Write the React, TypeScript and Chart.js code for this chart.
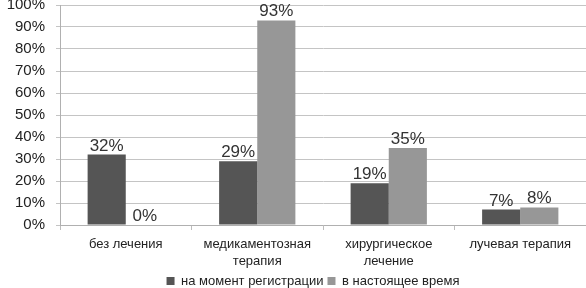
import React, { useEffect, useRef } from "react";
import { Chart, registerables } from "chart.js";

Chart.register(...registerables);

const categories: string[][] = [
  ["без лечения"],
  ["медикаментозная", "терапия"],
  ["хирургическое", "лечение"],
  ["лучевая терапия"],
];
const seriesNames = ["на момент регистрации", "в настоящее время"];
const atRegistration = [32, 29, 19, 7];
const currently = [0, 93, 35, 8];
const yTicks = [0, 10, 20, 30, 40, 50, 60, 70, 80, 90, 100];

const FONT = "Arial, 'Liberation Sans', sans-serif";

const valueLabels = {
  id: "valueLabels",
  afterDatasetsDraw(chart: any) {
    const ctx = chart.ctx;
    ctx.save();
    ctx.font = "17px " + FONT;
    ctx.fillStyle = "#333333";
    ctx.textAlign = "center";
    ctx.textBaseline = "alphabetic";
    chart.data.datasets.forEach((ds: any, di: number) => {
      const meta = chart.getDatasetMeta(di);
      meta.data.forEach((bar: any, i: number) => {
        ctx.fillText(ds.data[i] + "%", bar.x, bar.y - 4);
      });
    });
    ctx.restore();
  },
};

const legendShift = {
  id: "legendShift",
  afterLayout(chart: any) {
    const lg = chart.legend;
    if (lg) {
      lg.left = 40;
      lg.right = 586;
      const h = lg.bottom - lg.top;
      lg.top = 270.5;
      lg.bottom = lg.top + h;
    }
    const x = chart.scales.x;
    if (x) {
      x.bottom = 288;
      x.height = x.bottom - x.top;
    }
  },
};

export default function App() {
  const ref = useRef<HTMLCanvasElement>(null);
  useEffect(() => {
    if (!ref.current) return;
    const chart = new Chart(ref.current, {
      type: "bar",
      data: {
        labels: categories,
        datasets: [
          {
            label: seriesNames[0],
            data: atRegistration,
            backgroundColor: "#555555",
            borderWidth: 0,
            categoryPercentage: 0.58,
            barPercentage: 1,
          },
          {
            label: seriesNames[1],
            data: currently,
            backgroundColor: "#979797",
            borderWidth: 0,
            categoryPercentage: 0.58,
            barPercentage: 1,
          },
        ],
      },
      options: {
        animation: false,
        responsive: false,
        layout: { padding: { top: 5, right: 0, left: 0, bottom: 0 } },
        plugins: {
          tooltip: { enabled: false },
          legend: {
            position: "bottom",
            labels: {
              boxWidth: 8,
              boxHeight: 8,
              padding: 4,
              color: "#222222",
              font: { size: 13, family: FONT },
            },
          },
        },
        scales: {
          x: {
            grid: {
              display: true,
              drawOnChartArea: false,
              offset: true,
              tickLength: 5,
              color: "#bdbdbd",
            },
            border: { color: "#b0b0b0" },
            ticks: {
              padding: 6,
              color: "#222222",
              font: { size: 13, family: FONT, lineHeight: 1.3 },
              maxRotation: 0,
              autoSkip: false,
            },
            afterFit(scale: any) {
              scale.height = 36;
            },
          },
          y: {
            min: 0,
            max: 100,
            afterBuildTicks(scale: any) {
              scale.ticks = yTicks.map((v) => ({ value: v }));
            },
            grid: { color: "#c4c4c4", tickLength: 4 },
            border: { color: "#b0b0b0" },
            ticks: {
              padding: 11,
              color: "#222222",
              font: { size: 15, family: FONT },
              callback: (v: any) => v + "%",
            },
            afterFit(scale: any) {
              scale.width = 60;
              scale.paddingTop = 0;
              scale.paddingBottom = 0;
            },
          },
        },
      },
      plugins: [valueLabels, legendShift],
    });
    return () => chart.destroy();
  }, []);
  return (
    <div style={{ position: "fixed", left: 0, top: 0, width: 586, height: 288, background: "#ffffff" }}>
      <canvas ref={ref} width={586} height={288} style={{ display: "block" }} />
    </div>
  );
}
